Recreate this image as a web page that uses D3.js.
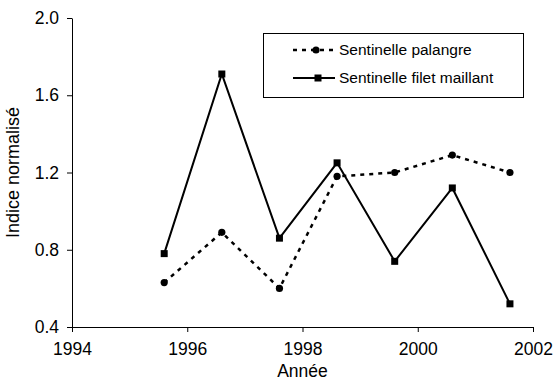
<!DOCTYPE html>
<html>
<head>
<meta charset="utf-8">
<script src="https://cdn.jsdelivr.net/npm/d3@7"></script>
<style>
  html, body { margin: 0; padding: 0; background: #fff; }
  svg { display: block; font-family: "Liberation Sans", Arial, sans-serif; }
</style>
</head>
<body>
<svg id="chart" width="553" height="381"></svg>
<script>
// Survey years (index values are plotted mid-year)
const years = [1995.6, 1996.6, 1997.6, 1998.6, 1999.6, 2000.6, 2001.6];
// Normalised abundance index for each sentinel fishery
const palangre = [0.63, 0.89, 0.60, 1.18, 1.20, 1.29, 1.20];
const filetMaillant = [0.78, 1.71, 0.86, 1.25, 0.74, 1.12, 0.52];
// Axis ticks
const xTicks = [1994, 1996, 1998, 2000, 2002];
const yTicks = [0.4, 0.8, 1.2, 1.6, 2.0];
const seriesNames = ["Sentinelle palangre", "Sentinelle filet maillant"];

const svg = d3.select("#chart");
const m = { left: 72, right: 533, top: 18, bottom: 327 };

const x = d3.scaleLinear().domain([1994, 2002]).range([m.left, m.right]);
const y = d3.scaleLinear().domain([0.4, 2.0]).range([m.bottom, m.top]);

// Axes
const xAxis = svg.append("g")
  .attr("transform", `translate(0,${m.bottom})`)
  .call(d3.axisBottom(x).tickValues(xTicks).tickFormat(d3.format("d"))
    .tickSizeInner(5).tickSizeOuter(0).tickPadding(11));
const yAxis = svg.append("g")
  .attr("transform", `translate(${m.left},0)`)
  .call(d3.axisLeft(y).tickValues(yTicks).tickFormat(d3.format(".1f"))
    .tickSizeInner(5).tickSizeOuter(0).tickPadding(8));

[xAxis, yAxis].forEach(g => {
  g.attr("font-size", null).attr("font-family", null);
  g.select(".domain").attr("stroke", "#000").attr("stroke-width", 1);
  g.selectAll(".tick line").attr("stroke", "#000");
  g.selectAll(".tick text").attr("fill", "#000")
    .style("font-size", "17.5px");
});

// Axis titles
svg.append("text")
  .attr("x", (m.left + m.right) / 2).attr("y", 377)
  .attr("text-anchor", "middle").style("font-size", "17.5px")
  .text("Année");
svg.append("text")
  .attr("transform", `translate(18.5,${(m.top + m.bottom) / 2}) rotate(-90)`)
  .attr("text-anchor", "middle").style("font-size", "18px")
  .text("Indice normalisé");

const line = d3.line().x(d => x(d[0])).y(d => y(d[1]));
const palData = years.map((yr, i) => [yr, palangre[i]]);
const filData = years.map((yr, i) => [yr, filetMaillant[i]]);

// Longline series: dashed line with round markers
svg.append("path").datum(palData)
  .attr("d", line).attr("fill", "none")
  .attr("stroke", "#000").attr("stroke-width", 2.5)
  .attr("stroke-dasharray", "4,5");
svg.selectAll("circle.pal").data(palData).enter().append("circle")
  .attr("class", "pal")
  .attr("cx", d => x(d[0])).attr("cy", d => y(d[1])).attr("r", 3.6)
  .attr("fill", "#000");

// Gillnet series: solid line with square markers
svg.append("path").datum(filData)
  .attr("d", line).attr("fill", "none")
  .attr("stroke", "#000").attr("stroke-width", 2);
svg.selectAll("rect.fil").data(filData).enter().append("rect")
  .attr("class", "fil")
  .attr("x", d => x(d[0]) - 3.5).attr("y", d => y(d[1]) - 3.5)
  .attr("width", 7).attr("height", 7).attr("fill", "#000");

// Legend
const lg = svg.append("g");
lg.append("rect")
  .attr("x", 263.5).attr("y", 33.5).attr("width", 260).attr("height", 64)
  .attr("fill", "#fff").attr("stroke", "#000").attr("stroke-width", 1);

const rowY = [50, 78];
lg.append("line").attr("x1", 293).attr("x2", 335).attr("y1", rowY[0]).attr("y2", rowY[0])
  .attr("stroke", "#000").attr("stroke-width", 2.5).attr("stroke-dasharray", "4,5");
lg.append("circle").attr("cx", 316).attr("cy", rowY[0]).attr("r", 3.6).attr("fill", "#000");
lg.append("line").attr("x1", 293).attr("x2", 335).attr("y1", rowY[1]).attr("y2", rowY[1])
  .attr("stroke", "#000").attr("stroke-width", 2);
lg.append("rect").attr("x", 314.5).attr("y", rowY[1] - 3.5).attr("width", 7).attr("height", 7)
  .attr("fill", "#000");

lg.selectAll("text.lab").data(seriesNames).enter().append("text")
  .attr("class", "lab")
  .attr("x", 339).attr("y", (d, i) => rowY[i])
  .attr("dy", "0.35em").style("font-size", "15.5px")
  .text(d => d);
</script>
</body>
</html>
